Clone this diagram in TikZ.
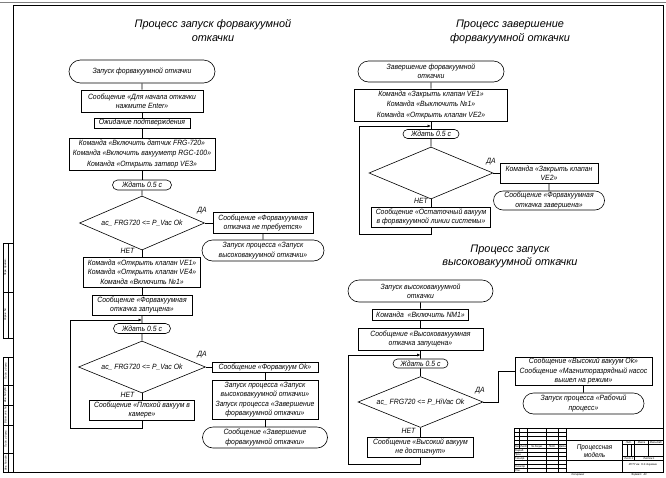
\documentclass[tikz,border=0pt]{standalone}
\usepackage{fontspec}
\setmainfont{Liberation Sans}[FakeStretch=0.9]
\newfontfamily\ttlfont{Liberation Sans}
\usetikzlibrary{shapes.geometric,shapes.misc,arrows.meta}
\newcommand\fb{\fontsize{7.6}{9.3}\selectfont\itshape}
\newcommand\fbw{\fontsize{7.6}{10.4}\selectfont\itshape}
\newcommand\ftt{\ttlfont\fontsize{10.9}{13.5}\selectfont\itshape}
\newcommand\fsm{\fontsize{2.8}{3.2}\selectfont\itshape}
\newcommand\fmid{\fontsize{7}{8.2}\selectfont\itshape}
\begin{document}
\begin{tikzpicture}[x=1pt,y=-1pt,
  bx/.style={draw, rectangle, line width=0.6pt, inner sep=0pt, align=center, font=\fb},
  tm/.style={draw, rounded rectangle, line width=0.6pt, inner sep=0pt, align=center, font=\fb},
  dm/.style={draw, diamond, aspect=2.4, line width=0.6pt, inner sep=0pt, font=\fb},
  lbl/.style={font=\fb, inner sep=0pt},
  ttl/.style={font=\ftt, align=center, inner sep=0pt},
  ln/.style={line width=0.6pt},
  lp/.style={line width=0.6pt, -{Latex[length=3.5pt,width=3pt]}},
  tb/.style={line width=0.9pt},
  tt/.style={line width=0.35pt},
  sm/.style={font=\fsm, inner sep=0pt}]
\useasboundingbox (0,0) rectangle (666,477);
% sheet frame
\draw[line width=0.4pt, gray] (0,1.7) -- (666,1.7);
\draw[line width=1pt] (13,5) rectangle (663,472.6);
% left strip
\draw[tt] (3,243) rectangle (13,338) (3,292) -- (13,292) (8,243) -- (8,338);
\draw[tt] (3,357) rectangle (13,472.6) (8,357) -- (8,472.6);
\draw[tt] (3,385) -- (13,385) (3,405) -- (13,405) (3,425) -- (13,425) (3,453) -- (13,453);
\node[sm, rotate=90] (s1) at (5.5,267.5) {Перв. примен.};
\node[sm, rotate=90] (s2) at (5.5,315) {Справ. №};
\node[sm, rotate=90] (s3) at (5.5,371) {Подп. и дата};
\node[sm, rotate=90] (s4) at (5.5,395) {Инв. № дубл.};
\node[sm, rotate=90] (s5) at (5.5,415) {Взам. инв. №};
\node[sm, rotate=90] (s6) at (5.5,439) {Подп. и дата};
\node[sm, rotate=90] (s7) at (5.5,463) {Инв. № подл.};

% titles
\node[ttl] (T1) at (213,30.5) {Процесс запуск форвакуумной\\откачки};
\node[ttl] (T2) at (510,32) {Процесс завершение\\форвакуумной откачки};
\node[ttl] (T3) at (510,256.5) {Процесс запуск\\высоковакуумной откачки};

% ---------- left chart ----------
\node[tm, minimum width=146pt, minimum height=23pt] (t1) at (142,71.5) {Запуск форвакуумной откачки};
\node[bx, minimum width=122pt, minimum height=22pt] (b1) at (142,101) {Сообщение «Для начала откачки\\нажмите Enter»};
\node[bx, minimum width=96pt, minimum height=10pt] (b2) at (142,123) {Ожидание подтверждения};
\node[bx, font=\fbw, minimum width=146pt, minimum height=32pt] (b3) at (142,154) {Команда «Включить датчик FRG-720»\\Команда «Включить вакууметр RGC-100»\\Команда «Открыть затвор VE3»};
\node[tm, minimum width=59pt, minimum height=10pt] (w1) at (142,185) {Ждать 0.5 с};
\node[dm, minimum width=125pt, minimum height=54pt] (d1) at (142,223) {ac\_ FRG720 <= P\_Vac Ok};
\node[bx, minimum width=100pt, minimum height=21pt] (r1) at (263,223) {Сообщение «Форвакуумная\\откачка не требуется»};
\node[tm, minimum width=122pt, minimum height=21pt] (r2) at (263,250.5) {Запуск процесса «Запуск\\высоковакуумной откачки»};
\node[bx, minimum width=117pt, minimum height=30pt] (b4) at (142,272) {Команда «Открыть клапан VE1»\\Команда «Открыть клапан VE4»\\Команда «Включить №1»};
\node[bx, minimum width=100pt, minimum height=20pt] (b5) at (142,305) {Сообщение «Форвакуумная\\откачка запущена»};
\node[tm, minimum width=57pt, minimum height=10pt] (w2) at (142,328.5) {Ждать 0.5 с};
\node[dm, minimum width=127pt, minimum height=52pt] (d2) at (142,367) {ac\_ FRG720 <= P\_Vac Ok};
\node[bx, minimum width=106pt, minimum height=10pt] (r3) at (265,367) {Сообщение «Форвакуум Ok»};
\node[bx, minimum width=106pt, minimum height=39pt] (r4) at (265,399.5) {Запуск процесса «Запуск\\высоковакуумной откачки»\\Запуск процесса «Завершение\\форвакуумной откачки»};
\node[tm, minimum width=125pt, minimum height=21pt] (r5) at (265,437.5) {Сообщение «Завершение\\форвакуумной откачки»};
\node[bx, minimum width=105pt, minimum height=20pt] (b6) at (142,410) {Сообщение «Плохой вакуум в\\камере»};
\node[lbl] (y1) at (202,211) {ДА};
\node[lbl] (n1) at (127.5,251) {НЕТ};
\node[lbl] (y2) at (202,355) {ДА};
\node[lbl] (n2) at (127.5,394.5) {НЕТ};
\coordinate (j1) at (142,320);
\coordinate (lb1) at (70,428);

\draw[ln] (t1) -- (b1);
\draw[ln] (b1) -- (b2);
\draw[ln] (b2) -- (b3);
\draw[ln] (b3) -- (w1);
\draw[ln] (w1) -- (d1);
\draw[ln] (d1.east) -- (r1.west);
\draw[ln] (r1) -- (r2);
\draw[ln] (d1.south) -- (b4.north);
\draw[ln] (b4) -- (b5);
\draw[ln] (b5) -- (w2);
\draw[ln] (w2) -- (d2);
\draw[ln] (d2.east) -- (r3.west);
\draw[ln] (r3) -- (r4);
\draw[ln] (r4) -- (r5);
\draw[ln] (d2.south) -- (b6.north);
\draw[ln] (b6.south) -- (b6.south |- lb1) -- (lb1) -- (lb1 |- j1);
\draw[lp] (lb1 |- j1) -- (j1);

% ---------- right top chart ----------
\node[tm, minimum width=146pt, minimum height=21pt] (t2) at (431,71.5) {Завершение форвакуумной\\откачки};
\node[bx, font=\fbw, minimum width=153pt, minimum height=32pt] (c1) at (431,105) {Команда «Закрыть клапан VE1»\\Команда «Выключить №1»\\Команда «Открыть клапан VE2»};
\node[tm, minimum width=56pt, minimum height=9pt] (w3) at (431,134) {Ждать 0.5 с};
\node[dm, minimum width=124pt, minimum height=52pt] (d3) at (431,173) {};
\node[bx, minimum width=98pt, minimum height=20pt] (c2) at (549,173) {Команда «Закрыть клапан\\VE2»};
\node[tm, minimum width=111pt, minimum height=19pt] (c3) at (549,200.5) {Сообщение «Форвакуумная\\откачка завершена»};
\node[bx, minimum width=119pt, minimum height=20pt] (c4) at (431,217) {Сообщение «Остаточный вакуум\\в форвакуумной линии системы»};
\node[lbl] (y3) at (491,162) {ДА};
\node[lbl] (n3) at (421,201) {НЕТ};
\coordinate (j2) at (431,126);
\coordinate (lb2) at (359,234);

\draw[ln] (t2) -- (c1);
\draw[ln] (c1) -- (w3);
\draw[ln] (w3) -- (d3);
\draw[ln] (d3.east) -- (c2.west);
\draw[ln] (c2) -- (c3);
\draw[ln] (d3.south) -- (c4.north);
\draw[ln] (c4.south) -- (c4.south |- lb2) -- (lb2) -- (lb2 |- j2);
\draw[lp] (lb2 |- j2) -- (j2);

% ---------- right bottom chart ----------
\node[tm, minimum width=145pt, minimum height=22pt] (t3) at (420.5,291) {Запуск высоковакуумной\\откачки};
\node[bx, minimum width=96pt, minimum height=11pt] (e1) at (420.5,314.5) {Команда~~«Включить NM1»};
\node[bx, minimum width=125pt, minimum height=22pt] (e2) at (420.5,339) {Сообщение «Высоковакуумная\\откачка запущена»};
\node[tm, minimum width=55pt, minimum height=9pt] (w4) at (420.5,363.5) {Ждать 0.5 с};
\node[dm, minimum width=125pt, minimum height=51pt] (d4) at (420.5,402) {ac\_ FRG720 <= P\_HiVac Ok};
\node[bx, minimum width=137pt, minimum height=28pt] (e3) at (583.5,371) {Сообщение «Высокий вакуум Ok»\\Сообщение «Магниторазрядный насос\\вышел на режим»};
\node[tm, minimum width=121pt, minimum height=21pt] (e4) at (583.5,403.5) {Запуск процесса «Рабочий\\процесс»};
\node[bx, minimum width=106pt, minimum height=20pt] (e5) at (420.5,447) {Сообщение «Высокий вакуум\\не достигнут»};
\node[lbl] (y4) at (480,391) {ДА};
\node[lbl] (n4) at (408.5,431) {НЕТ};
\coordinate (j3) at (420.5,355);
\coordinate (lb3) at (348,464);
\coordinate (k4) at (498,371);

\draw[ln] (t3) -- (e1);
\draw[ln] (e1) -- (e2);
\draw[ln] (e2) -- (w4);
\draw[ln] (w4) -- (d4);
\draw[ln] (d4.east) -| (k4) -- (e3.west);
\draw[ln] (e3) -- (e4);
\draw[ln] (d4.south) -- (e5.north);
\draw[ln] (e5.south) -- (e5.south |- lb3) -- (lb3) -- (lb3 |- j3);
\draw[lp] (lb3 |- j3) -- (j3);

% ---------- title block ----------
\begin{scope}[shift={(514,428.3)}, x=0.8054pt, y=-0.8054pt]
  \draw[tt] (0,5) -- (65,5) (0,10) -- (65,10) (0,15) -- (65,15)
            (0,30) -- (65,30) (0,35) -- (65,35) (0,40) -- (65,40) (0,45) -- (65,45) (0,50) -- (65,50);
  \draw[tb] (0,20) -- (65,20) (0,25) -- (65,25);
  \draw[tb] (7,0) -- (7,25) (17,0) -- (17,55) (40,0) -- (40,55) (55,0) -- (55,55) (65,0) -- (65,55);
  \draw[tb] (65,15) -- (185,15) (135,15) -- (135,55);
  \draw[tb] (135,20) -- (185,20) (135,35) -- (185,35) (135,40) -- (185,40) (65,40) -- (135,40);
  \draw[tb] (150,15) -- (150,40) (167,15) -- (167,35);
  \draw[tt] (140,20) -- (140,35) (145,20) -- (145,35);
  \draw[line width=1pt] (0,0) rectangle (185,55);
  \node[sm] (h1) at (3.5,22.5) {Изм.};
  \node[sm] (h2) at (12,22.5) {Лист};
  \node[sm] (h3) at (28.5,22.5) {№ докум.};
  \node[sm] (h4) at (47.5,22.5) {Подп.};
  \node[sm] (h5) at (60,22.5) {Дата};
  \node[sm, anchor=west] (h6) at (0.7,27.5) {Разраб.};
  \node[sm, anchor=west] (h7) at (0.7,32.5) {Пров.};
  \node[sm, anchor=west] (h8) at (0.7,37.5) {Т.контр.};
  \node[sm, anchor=west] (h9) at (0.7,47.5) {Н.контр.};
  \node[sm, anchor=west] (h10) at (0.7,52.5) {Утв.};
  \node[sm] (h11) at (142.5,17.5) {Лит.};
  \node[sm] (h12) at (158.5,17.5) {Масса};
  \node[sm] (h13) at (176,17.5) {Масштаб};
  \node[sm] (h14) at (142.5,37.5) {Лист 1};
  \node[sm] (h15) at (167.5,37.5) {Листов 1};
  \node[sm] (h16) at (160,45) {МГТУ им. Н.Э. Баумана};
  \node[font=\fmid, align=center, inner sep=0pt] (h17) at (100,28) {Процессная\\модель};
\end{scope}
\node[sm] (k1) at (578,475.3) {Копировал};
\node[sm] (k2) at (639,475.3) {Формат~~~А3};
\end{tikzpicture}
\end{document}
